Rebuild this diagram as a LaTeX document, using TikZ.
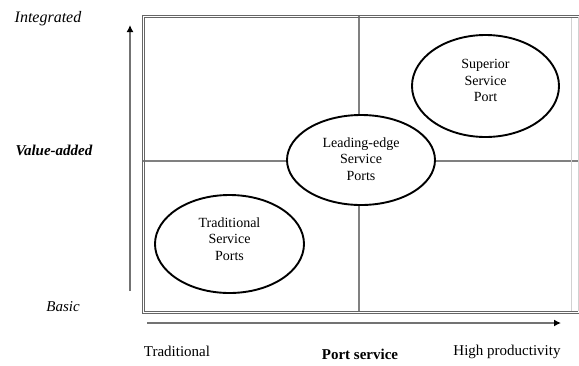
\documentclass[tikz,border=0pt]{standalone}
\usepackage{fontspec}
\setmainfont{Liberation Serif}
\usetikzlibrary{shapes.geometric,arrows.meta}
\begin{document}
\begin{tikzpicture}[x=1pt,y=-1pt,
  quadframe/.style={draw=black!60,line width=0.9pt},
  faintedge/.style={draw=black!18,line width=0.9pt},
  divider/.style={draw=black!50,line width=1.3pt},
  axis/.style={draw=black!55,line width=2.4pt,-{Latex[length=7pt,width=7pt,black]}},
  port/.style={ellipse,draw=black,fill=white,line width=1.9pt,inner sep=0pt},
  porttext/.style={align=center,inner sep=0pt,font=\fontsize{14}{16.7}\selectfont},
  label/.style={inner sep=0pt,font=\fontsize{15}{18}\selectfont}]
\useasboundingbox (0,0) rectangle (579,365);
% quadrant frame (two thin outlines, pale right side) and dividers
\coordinate (otr) at (579,15);
\coordinate (otl) at (142,15);
\coordinate (obl) at (142,313);
\coordinate (obr) at (579,313);
\coordinate (itr) at (578,17);
\coordinate (itl) at (144,17);
\coordinate (ibl) at (144,311);
\coordinate (ibr) at (578,311);
\coordinate (rt) at (571,17);
\coordinate (rb) at (571,311);
\coordinate (vt) at (359,16);
\coordinate (vb) at (359,312);
\coordinate (hl) at (143,161);
\coordinate (hr) at (579,161);
\draw[divider] (vt) -- (vb);
\draw[divider] (hl) -- (hr);
\draw[faintedge] (rt) -- (rb);
\draw[faintedge] (itr) -- (ibr);
\draw[quadframe] (otr) -- (otl) -- (obl) -- (obr);
\draw[quadframe] (itr) -- (itl) -- (ibl) -- (ibr);
% axes
\coordinate (ya) at (130,291);
\coordinate (yb) at (130,25);
\coordinate (xa) at (147,323);
\coordinate (xb) at (561,323);
\draw[axis] (ya) -- (yb);
\draw[axis] (xa) -- (xb);
% port categories
\node[port,minimum width=149pt,minimum height=98pt] (trad) at (229.5,244) {};
\node[port,minimum width=148pt,minimum height=90pt] (lead) at (361,160) {};
\node[port,minimum width=147pt,minimum height=102pt] (sup) at (485.5,86) {};
\node[porttext] (tradt) at (229.5,239) {Traditional\\Service\\Ports};
\node[porttext] (leadt) at (361,159) {Leading-edge\\Service\\Ports};
\node[porttext] (supt) at (485.5,80.5) {Superior\\Service\\Port};
% axis labels
\node[label,font=\fontsize{16}{18}\selectfont\itshape] (integ) at (48,19) {Integrated};
\node[label,font=\fontsize{15}{18}\selectfont\bfseries\itshape] (va) at (54,150) {Value-added};
\node[label,font=\fontsize{15}{18}\selectfont\itshape] (basic) at (63,307) {Basic};
\node[label] (tradx) at (177,351) {Traditional};
\node[label,font=\fontsize{15}{18}\selectfont\bfseries] (ps) at (360,354) {Port service};
\node[label] (hp) at (507,352) {High productivity};
\end{tikzpicture}
\end{document}
